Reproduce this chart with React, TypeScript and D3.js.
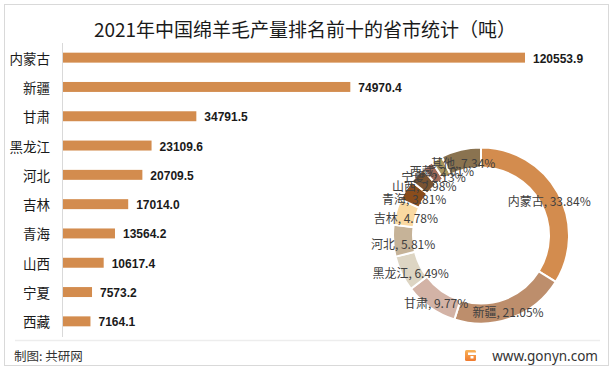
import React from "react";
import * as d3 from "d3";

const categories = ["内蒙古", "新疆", "甘肃", "黑龙江", "河北", "吉林", "青海", "山西", "宁夏", "西藏"];
const values = [120553.9, 74970.4, 34791.5, 23109.6, 20709.5, 17014.0, 13564.2, 10617.4, 7573.2, 7164.1];
const valueLabels = ["120553.9", "74970.4", "34791.5", "23109.6", "20709.5", "17014.0", "13564.2", "10617.4", "7573.2", "7164.1"];

const pieNames = ["内蒙古", "新疆", "甘肃", "黑龙江", "河北", "吉林", "青海", "山西", "宁夏", "西藏", "其他"];
const pieShares = [33.84, 21.05, 9.77, 6.49, 5.81, 4.78, 3.81, 2.98, 2.13, 2.01, 7.34];
const pieColors = ["#D38C4E", "#BD8E6C", "#D3B3A6", "#DDD5C3", "#C6B398", "#FAD9A1", "#8A4D1C", "#7A5331", "#A0695A", "#A8955E", "#8A7350"];

const title = "2021年中国绵羊毛产量排名前十的省市统计（吨）";
const source = "制图: 共研网";
const site = "www.gonyn.com";

const W = 613;
const H = 371;
const CJK = "'Noto Sans CJK SC', 'Noto Sans', sans-serif";

export default function App() {
  const x = d3.scaleLinear().domain([0, values[0]]).range([63, 525]);
  const y = d3
    .scaleBand<string>()
    .domain(categories)
    .range([43, 336])
    .paddingInner(0.66)
    .paddingOuter(0.33);

  const cx = 481;
  const cy = 235.5;
  const rOuter = 88;
  const rInner = 68;
  const pie = d3.pie<number>().sort(null).value((d) => d);
  const arcs = pie(pieShares);
  const arc = d3.arc<d3.PieArcDatum<number>>().innerRadius(rInner).outerRadius(rOuter);
  const labelArc = d3
    .arc<d3.PieArcDatum<number>>()
    .innerRadius((rInner + rOuter) / 2)
    .outerRadius((rInner + rOuter) / 2);

  return (
    <svg
      width={W}
      height={H}
      style={{ position: "absolute", left: 0, top: 0, background: "#fff" }}
    >
      <defs>
        <linearGradient id="logoGrad" x1="0" y1="0" x2="0" y2="1">
          <stop offset="0%" stopColor="#F8B45A" />
          <stop offset="100%" stopColor="#F07A2E" />
        </linearGradient>
      </defs>
      <rect x={4.5} y={4.5} width={604} height={361} fill="#fff" stroke="#D9D9D9" strokeWidth={1} />
      <text
        x={305}
        y={28}
        textAnchor="middle"
        dominantBaseline="central"
        fontFamily={CJK}
        fontSize={19}
        fill="#1a1a1a"
      >
        {title}
      </text>

      {/* bars */}
      {categories.map((c, i) => (
        <g key={c}>
          <rect
            x={x(0)}
            y={y(c)!}
            width={x(values[i]) - x(0)}
            height={y.bandwidth()}
            fill="#D38C4E"
          />
          <text
            x={50}
            y={y(c)! + y.bandwidth() / 2}
            textAnchor="end"
            dominantBaseline="central"
            fontFamily={CJK}
            fontSize={13.5}
            fill="#1a1a1a"
          >
            {c}
          </text>
          <text
            x={x(values[i]) + 8}
            y={y(c)! + y.bandwidth() / 2 + 1}
            dominantBaseline="central"
            fontFamily="'Liberation Sans', Arial, sans-serif"
            fontWeight="bold"
            fontSize={12}
            fill="#1a1a1a"
          >
            {valueLabels[i]}
          </text>
        </g>
      ))}
      <line x1={62.5} x2={62.5} y1={43} y2={337} stroke="#D9D9D9" strokeWidth={1} />

      {/* donut */}
      <g transform={`translate(${cx},${cy})`}>
        {arcs.map((a, i) => (
          <path key={i} d={arc(a)!} fill={pieColors[i]} stroke="#fff" strokeWidth={2} />
        ))}
        {arcs.map((a, i) => {
          const [lx, ly] = labelArc.centroid(a);
          return (
            <text
              key={"l" + i}
              x={lx}
              y={ly + 3}
              textAnchor="middle"
              dominantBaseline="central"
              fontFamily={CJK}
              fontSize={12}
              fill="#404040"
            >
              {`${pieNames[i]}, ${pieShares[i].toFixed(2)}%`}
            </text>
          );
        })}
      </g>

      {/* footer */}
      <line x1={15} x2={600} y1={340.5} y2={340.5} stroke="#EDEDED" strokeWidth={1.5} />
      <text x={14} y={355} dominantBaseline="central" fontFamily={CJK} fontSize={12.5} fill="#333">
        {source}
      </text>
      <g transform="translate(465,350)">
        <rect x={0} y={0} width={11} height={11} rx={1.5} fill="url(#logoGrad)" />
        <rect x={3} y={2.5} width={8} height={2.5} fill="#fff" />
        <rect x={5.5} y={6} width={3} height={2.5} fill="#fff" />
      </g>
      <text
        x={598}
        y={356}
        textAnchor="end"
        dominantBaseline="central"
        fontFamily="'Noto Sans', sans-serif"
        fontSize={13.5}
        fill="#333"
      >
        {site}
      </text>
    </svg>
  );
}
